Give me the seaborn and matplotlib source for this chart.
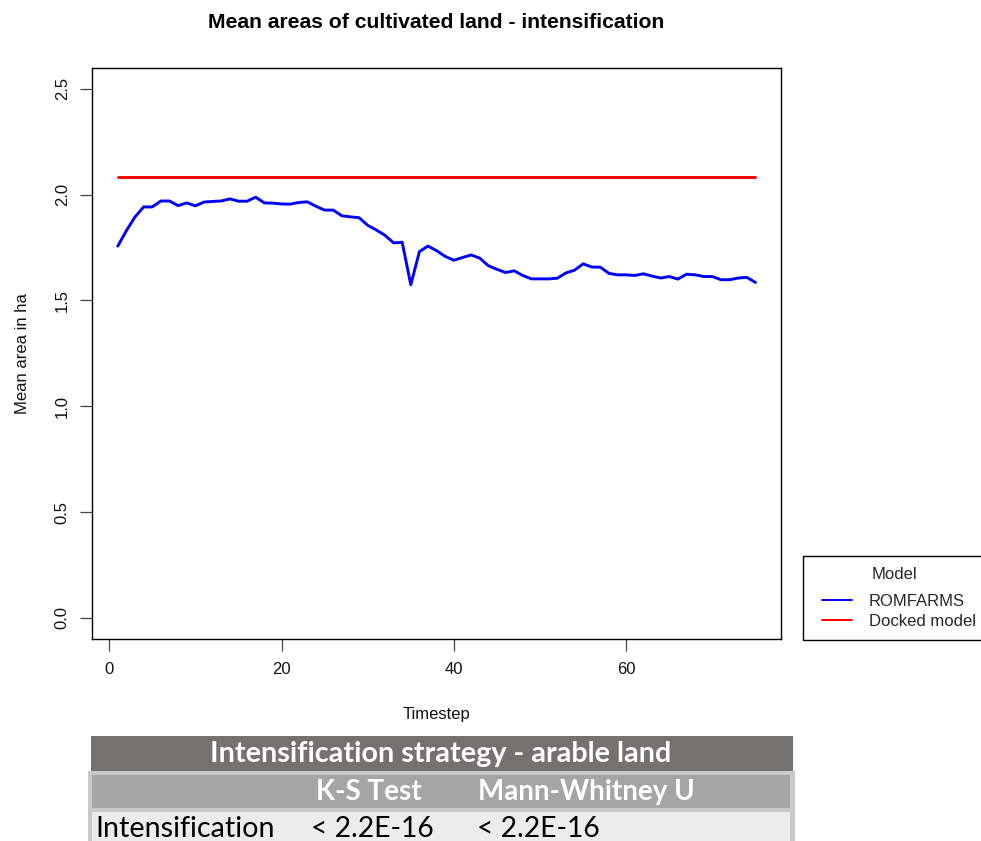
import matplotlib
matplotlib.use("Agg")
import matplotlib.pyplot as plt
import numpy as np
import pandas as pd
import seaborn as sns
from matplotlib.patches import Rectangle
from matplotlib.lines import Line2D
from matplotlib.legend_handler import HandlerLine2D

# ---------------- data ----------------
timesteps = list(range(1, 76))
romfarms = [
    1.757, 1.830, 1.895, 1.942, 1.942, 1.970, 1.970, 1.948, 1.961, 1.947,
    1.965, 1.968, 1.970, 1.980, 1.969, 1.969, 1.988, 1.961, 1.960, 1.956,
    1.955, 1.963, 1.966, 1.945, 1.927, 1.927, 1.900, 1.895, 1.891, 1.855,
    1.833, 1.808, 1.772, 1.775, 1.574, 1.731, 1.757, 1.735, 1.708, 1.690,
    1.703, 1.715, 1.700, 1.664, 1.647, 1.632, 1.640, 1.618, 1.602, 1.602,
    1.602, 1.605, 1.630, 1.643, 1.673, 1.658, 1.657, 1.628, 1.621, 1.621,
    1.618, 1.626, 1.615, 1.606, 1.613, 1.601, 1.624, 1.621, 1.613, 1.613,
    1.598, 1.598, 1.606, 1.609, 1.585,
]
docked_value = 2.083
docked = [docked_value] * len(timesteps)

models = ["ROMFARMS", "Docked model"]
model_colors = ["#0000ff", "#ff0000"]

x_ticks = [0, 20, 40, 60]
y_ticks = [0.0, 0.5, 1.0, 1.5, 2.0, 2.5]
y_tick_labels = ["0.0", "0.5", "1.0", "1.5", "2.0", "2.5"]

title = "Mean areas of cultivated land - intensification"
x_label = "Timestep"
y_label = "Mean area in ha"
legend_title = "Model"

table_title = "Intensification strategy - arable land"
table_cols = ["K-S Test", "Mann-Whitney U"]
table_row_label = "Intensification"
table_values = ["< 2.2E-16", "< 2.2E-16"]

df = pd.DataFrame({
    "Timestep": timesteps * 2,
    "value": romfarms + docked,
    "Model": [models[0]] * len(timesteps) + [models[1]] * len(timesteps),
})

# ---------------- style ----------------
sns.set_theme(style="white")
plt.rcParams["font.family"] = ["Liberation Sans", "DejaVu Sans"]

W, H = 981, 841
fig = plt.figure(figsize=(W / 100, H / 100), dpi=100)
fig.patch.set_facecolor("white")

ax = fig.add_axes([92.3 / W, 1 - 639 / H, (781 - 92.3) / W, (639 - 67.7) / H])

sns.lineplot(
    data=df, x="Timestep", y="value", hue="Model",
    palette=dict(zip(models, model_colors)), hue_order=models,
    linewidth=2.1, ax=ax, legend=False,
)

ax.set_xlim(-1.96, 77.96)
ax.set_ylim(-0.1, 2.6)
ax.set_xticks(x_ticks)
ax.set_xticklabels([str(t) for t in x_ticks])
ax.set_yticks(y_ticks)
ax.set_yticklabels(y_tick_labels, rotation=90, va="center")

for sp in ax.spines.values():
    sp.set_visible(True)
    sp.set_color("black")
    sp.set_linewidth(1.0)

ax.tick_params(axis="both", which="major", direction="out", length=8.3,
               width=0.9, color="#444444", labelsize=12, labelcolor="#111111",
               left=True, bottom=True)
ax.tick_params(axis="x", pad=8)
ax.tick_params(axis="y", pad=8)

ax.set_xlabel(x_label, fontsize=12, labelpad=22, color="#111111")
ax.set_ylabel(y_label, fontsize=12, labelpad=18, color="#111111")
fig.text(436 / W, 1 - 22 / H, title, ha="center", va="center",
         fontsize=15.2, fontweight="bold", color="black")

# ---------------- legend ----------------
handles = [Line2D([0], [0], color=c, lw=1.4) for c in model_colors]
leg = fig.legend(
    handles, models, title=legend_title, loc="lower left",
    bbox_to_anchor=(802.7 / W, 1 - 640 / H), bbox_transform=fig.transFigure,
    frameon=True, fancybox=False, edgecolor="black", framealpha=1,
    borderaxespad=0, borderpad=0.65, handlelength=2.3, handletextpad=1.0,
    labelspacing=0.3, fontsize=12, title_fontsize=12,
    handler_map={Line2D: HandlerLine2D(xpad=0.5)},
)
leg.get_frame().set_linewidth(1.0)
leg._legend_box.sep = 9

# ---------------- table ----------------
def rect(x0, y0, x1, y1, color):
    fig.patches.append(Rectangle((x0 / W, 1 - y1 / H), (x1 - x0) / W, (y1 - y0) / H,
                                 transform=fig.transFigure, facecolor=color,
                                 edgecolor="none", zorder=1))

rect(91, 736, 793, 771, "#767171")
rect(88, 771, 795, 845, "#c9c9c9")
rect(92, 775, 790, 808, "#a5a5a5")
rect(92, 812, 790, 845, "#ececec")

tfont = ["Lato", "DejaVu Sans"]
tsize = 20.7
fig.text(441 / W, 1 - 754 / H, table_title, ha="center", va="center",
         fontsize=tsize, fontweight="bold", color="white", family=tfont)
col_x = [316, 478]
for cx, txt in zip(col_x, table_cols):
    fig.text(cx / W, 1 - 792 / H, txt, ha="left", va="center",
             fontsize=20, fontweight="bold", color="white", family=tfont)
fig.text(95 / W, 1 - 829 / H, table_row_label, ha="left", va="center",
         fontsize=tsize, color="black", family=tfont)
val_x = [311, 477]
for vx, txt in zip(val_x, table_values):
    fig.text(vx / W, 1 - 829 / H, txt, ha="left", va="center",
             fontsize=20.3, color="black", family=tfont)

fig.savefig("out.png", dpi=100)
